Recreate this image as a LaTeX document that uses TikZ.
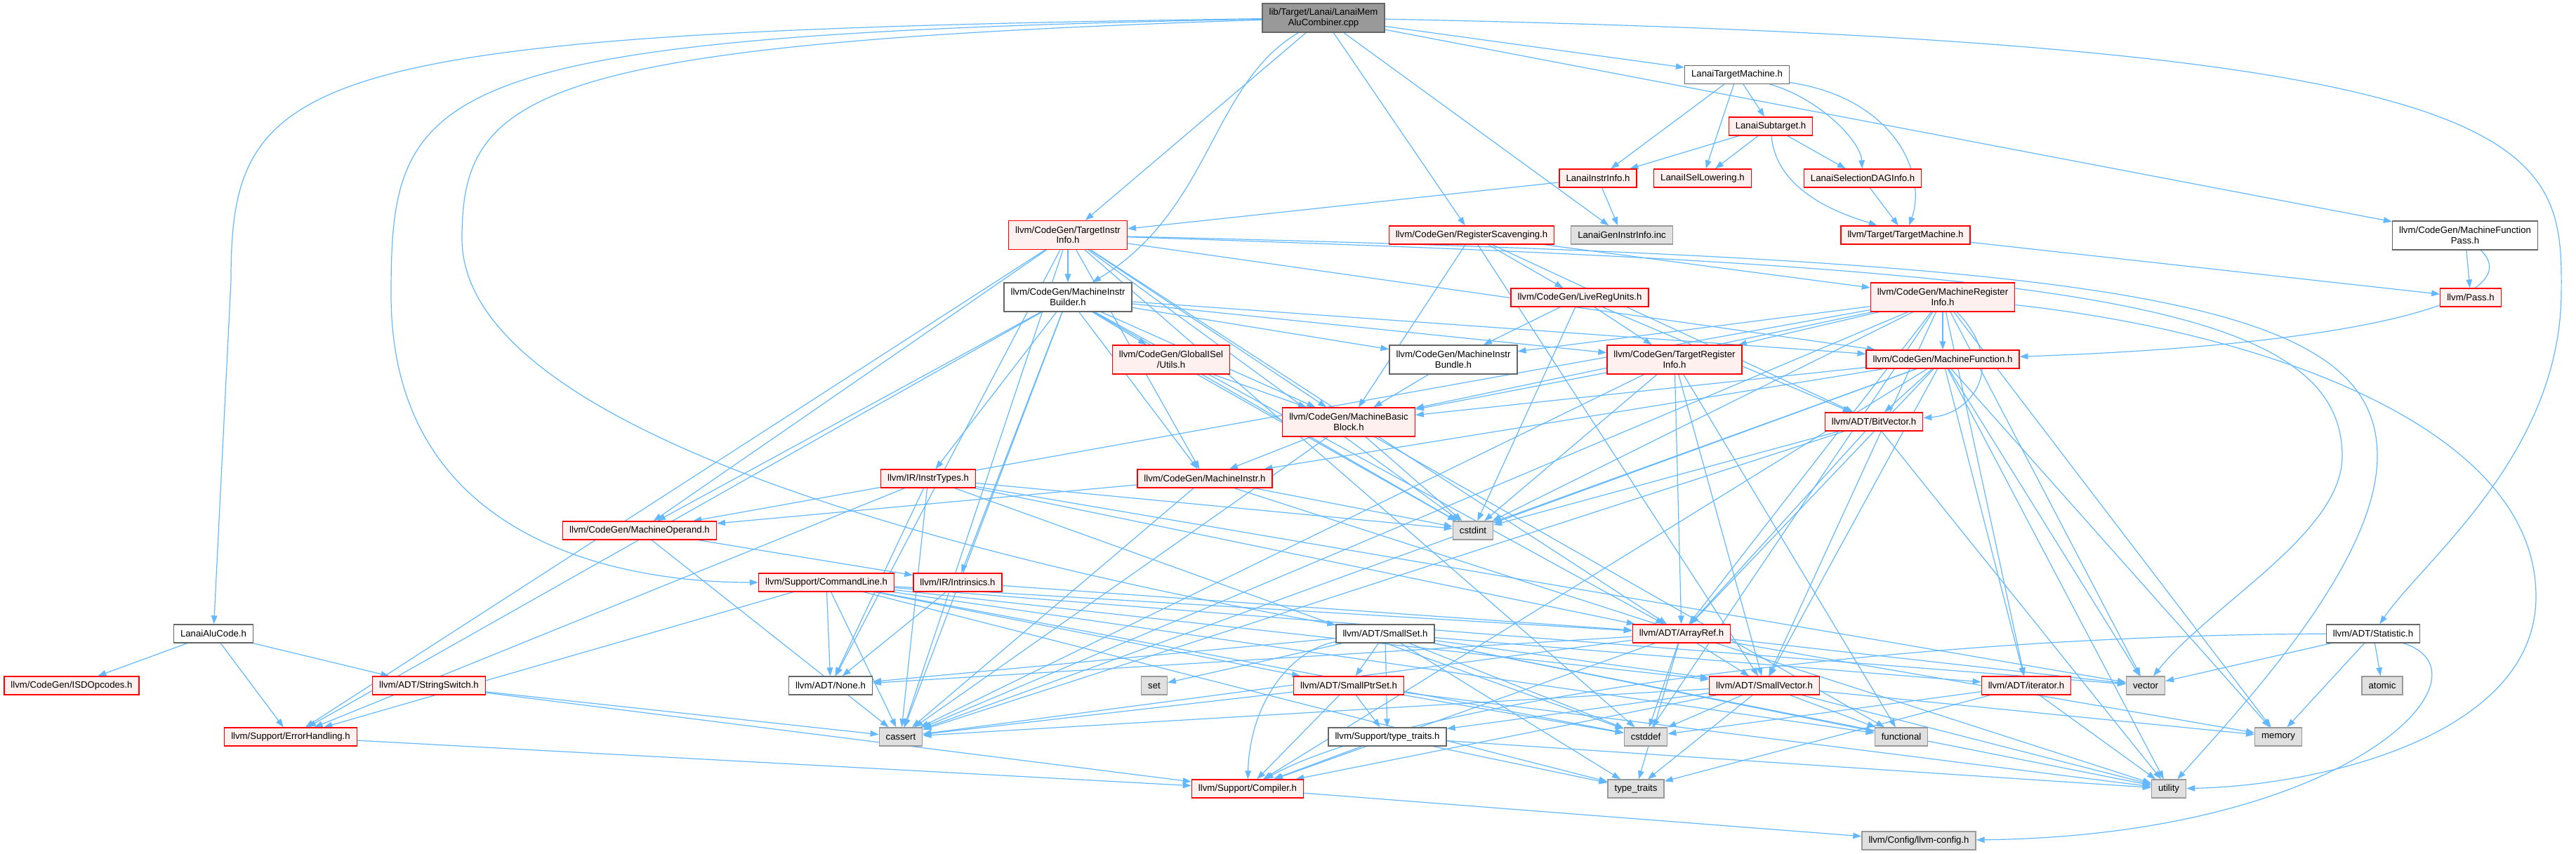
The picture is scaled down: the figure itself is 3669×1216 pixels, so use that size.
\documentclass[tikz,border=0pt]{standalone}
\usepackage{fontspec}
\setmainfont{Liberation Sans}
\usetikzlibrary{arrows.meta,backgrounds}
\definecolor{incEdge}{HTML}{63B8FF}
\definecolor{incRed}{HTML}{FF0000}
\definecolor{incPink}{HTML}{FFF0F0}
\definecolor{incFrame}{HTML}{666666}
\definecolor{incSysFill}{HTML}{E0E0E0}
\definecolor{incSysFrame}{HTML}{999999}
\definecolor{incRootFill}{HTML}{999999}
\tikzset{
  inc graph/.style={
    x=1pt, y=-1pt,
    every node/.style={font=\fontsize{13.2}{14.5}\selectfont,
      text=black, inner xsep=9.5pt, inner ysep=0pt,
      minimum height=26pt, line width=1.3pt, align=center}
  },
  inc file/.style={draw=incFrame, fill=white},
  inc trunc/.style={draw=incRed, fill=incPink},
  inc sys/.style={draw=incSysFrame, fill=incSysFill},
  inc root/.style={draw=incFrame, fill=incRootFill},
  inc two/.style={minimum height=41pt},
  inc edge/.style={draw=incEdge, line width=1.2pt,
    -{Triangle[length=12pt,width=8.5pt]}}
}

\begin{document}
\begin{tikzpicture}[inc graph]
  \useasboundingbox (0,0) rectangle (3669,1216);

  \node[inc root,inc two] (root) at (1885,25.5) {lib/Target/Lanai/LanaiMem\\AluCombiner.cpp};
  \node[inc file] (ltm) at (2474,106.5) {LanaiTargetMachine.h};
  \node[inc trunc] (sub) at (2522,180) {LanaiSubtarget.h};
  \node[inc trunc] (lii) at (2276,254) {LanaiInstrInfo.h};
  \node[inc trunc] (lisel) at (2425,254) {LanaiISelLowering.h};
  \node[inc trunc] (ldag) at (2653,254) {LanaiSelectionDAGInfo.h};
  \node[inc trunc,inc two] (tii) at (1521,335) {llvm/CodeGen/TargetInstr\\Info.h};
  \node[inc trunc] (rs) at (2096,335) {llvm/CodeGen/RegisterScavenging.h};
  \node[inc sys] (ginc) at (2310,335) {LanaiGenInstrInfo.inc};
  \node[inc trunc] (tm) at (2714,335) {llvm/Target/TargetMachine.h};
  \node[inc file,inc two] (mfp) at (3511,335.5) {llvm/CodeGen/MachineFunction\\Pass.h};
  \node[inc file,inc two] (mib) at (1521,423.5) {llvm/CodeGen/MachineInstr\\Builder.h};
  \node[inc trunc] (lru) at (2250,424) {llvm/CodeGen/LiveRegUnits.h};
  \node[inc trunc,inc two] (mri) at (2767,423.5) {llvm/CodeGen/MachineRegister\\Info.h};
  \node[inc trunc] (pass) at (3519,424) {llvm/Pass.h};
  \node[inc trunc,inc two] (gisel) at (1668,512.5) {llvm/CodeGen/GlobalISel\\/Utils.h};
  \node[inc file,inc two] (bundle) at (2070,512.5) {llvm/CodeGen/MachineInstr\\Bundle.h};
  \node[inc trunc,inc two] (tri) at (2385,512.5) {llvm/CodeGen/TargetRegister\\Info.h};
  \node[inc trunc] (mf) at (2767,512) {llvm/CodeGen/MachineFunction.h};
  \node[inc trunc,inc two] (mbb) at (1921,601.5) {llvm/CodeGen/MachineBasic\\Block.h};
  \node[inc trunc] (bv) at (2669,601) {llvm/ADT/BitVector.h};
  \node[inc trunc] (itypes) at (1322,682) {llvm/IR/InstrTypes.h};
  \node[inc trunc] (mi) at (1716,682) {llvm/CodeGen/MachineInstr.h};
  \node[inc trunc] (mo) at (911,756) {llvm/CodeGen/MachineOperand.h};
  \node[inc sys] (stdcstdint) at (2098,756) {cstdint};
  \node[inc trunc] (cl) at (1177,830) {llvm/Support/CommandLine.h};
  \node[inc trunc] (intr) at (1364,830) {llvm/IR/Intrinsics.h};
  \node[inc file] (alu) at (304,903) {LanaiAluCode.h};
  \node[inc file] (sset) at (1973,903) {llvm/ADT/SmallSet.h};
  \node[inc trunc] (aref) at (2395,903) {llvm/ADT/ArrayRef.h};
  \node[inc file] (stat) at (3380,903) {llvm/ADT/Statistic.h};
  \node[inc trunc] (isd) at (102,977) {llvm/CodeGen/ISDOpcodes.h};
  \node[inc trunc] (ssw) at (611,977) {llvm/ADT/StringSwitch.h};
  \node[inc file] (none) at (1183,977) {llvm/ADT/None.h};
  \node[inc sys] (stdset) at (1644,977) {set};
  \node[inc trunc] (sptr) at (1921,977) {llvm/ADT/SmallPtrSet.h};
  \node[inc trunc] (svec) at (2513,977) {llvm/ADT/SmallVector.h};
  \node[inc trunc] (iter) at (2886,977) {llvm/ADT/iterator.h};
  \node[inc sys] (stdvector) at (3056,977) {vector};
  \node[inc sys] (stdatomic) at (3393,977) {atomic};
  \node[inc trunc] (err) at (414,1050) {llvm/Support/ErrorHandling.h};
  \node[inc sys] (stdcassert) at (1283,1050) {cassert};
  \node[inc file] (tt) at (1976,1050) {llvm/Support/type\_traits.h};
  \node[inc sys] (stdcstddef) at (2344,1050) {cstddef};
  \node[inc sys] (stdfunctional) at (2708,1050) {functional};
  \node[inc sys] (stdmemory) at (3245,1050) {memory};
  \node[inc trunc] (compiler) at (1777,1124) {llvm/Support/Compiler.h};
  \node[inc sys] (stdtypetraits) at (2330,1124) {type\_traits};
  \node[inc sys] (stdutility) at (3089,1124) {utility};
  \node[inc sys] (llvmconfig) at (2733,1198) {llvm/Config/llvm-config.h};

  \begin{scope}[on background layer]
    \foreach \src/\dst in {root/tii, root/rs, root/ginc, root/ltm, root/mfp,
      ltm/lii, ltm/lisel, ltm/sub,
      sub/lii, sub/lisel, sub/ldag,
      lii/ginc, lii/tii, ldag/tm, tm/pass, mfp/pass,
      stat/stdvector, stat/stdmemory, stat/stdatomic,
      alu/isd, alu/ssw, alu/err,
      tii/mib, tii/aref, tii/none, tii/mbb, tii/mf, tii/mi, tii/mo, tii/err,
      tii/stdcassert, tii/stdcstddef, tii/stdcstdint,
      mib/aref, mib/gisel, mib/mbb, mib/mf, mib/mi, mib/bundle, mib/mo,
      mib/tri, mib/itypes, mib/intr, mib/err, mib/stdcassert, mib/stdcstdint,
      rs/bv, rs/svec, rs/lru, rs/mbb, rs/mri,
      lru/bv, lru/bundle, lru/tri, lru/stdcstdint,
      mri/aref, mri/svec, mri/mbb, mri/mf, mri/bundle, mri/mo,
      mri/tri, mri/iter, mri/stdcassert, mri/stdcstddef, mri/stdcstdint,
      mri/stdmemory, mri/stdvector,
      gisel/mbb, gisel/stdcstdint, bundle/mbb,
      tri/mbb, tri/aref, tri/svec, tri/stdcassert, tri/stdcstdint,
      tri/stdfunctional,
      mf/aref, mf/bv, mf/svec, mf/iter, mf/mbb, mf/mi, mf/compiler,
      mf/stdcassert, mf/stdcstdint, mf/stdmemory, mf/stdutility, mf/stdvector,
      mbb/mi, mbb/stdcassert, mbb/stdcstdint, mbb/stdfunctional,
      bv/aref, bv/stdcassert, bv/stdcstdint, bv/stdutility,
      itypes/aref, itypes/none, itypes/err, itypes/stdcassert,
      itypes/stdcstddef, itypes/stdcstdint, itypes/stdvector,
      mi/mo, mi/stdcassert, mi/stdcstdint, mi/stdutility,
      mo/intr, mo/stdcassert,
      cl/aref, cl/none, cl/sptr, cl/svec, cl/err, cl/stdcassert,
      cl/stdcstddef, cl/stdfunctional, cl/stdtypetraits, cl/stdvector,
      intr/aref, intr/none,
      sset/none, sset/sptr, sset/svec, sset/iter, sset/tt,
      sset/stdcstddef, sset/stdfunctional, sset/stdset, sset/stdtypetraits,
      sset/stdutility,
      aref/none, aref/svec, aref/compiler, aref/stdcassert, aref/stdcstddef,
      aref/stdmemory, aref/stdtypetraits, aref/stdvector,
      ssw/compiler, ssw/stdcassert,
      sptr/compiler, sptr/tt, sptr/stdcassert, sptr/stdcstddef, sptr/stdutility,
      svec/compiler, svec/tt, svec/stdcassert, svec/stdcstddef,
      svec/stdfunctional, svec/stdmemory, svec/stdtypetraits, svec/stdutility,
      iter/stdcstddef, iter/stdtypetraits, iter/stdutility,
      err/compiler, tt/compiler, tt/stdtypetraits, tt/stdutility,
      compiler/llvmconfig} {
      \draw[inc edge] (\src) -- (\dst);
    }
    \draw[inc edge] (root) .. controls (420,45) and (329,100) .. (329,400) -- (alu);
    \draw[inc edge] (root) .. controls (600,50) and (557,120) .. (557,420)
      .. controls (557,780) and (900,830) .. (cl);
    \draw[inc edge] (root) .. controls (760,62) and (658,130) .. (658,340)
      .. controls (658,620) and (1400,800) .. (sset);
    \draw[inc edge] (root) .. controls (1725,120) and (1725,300) .. (mib);
    \draw[inc edge] (root) .. controls (3640,60) and (3650,200) .. (3648,420)
      .. controls (3645,650) and (3450,800) .. (stat);
    \draw[inc edge] (ltm) .. controls (2700,140) and (2745,250) .. (tm);
    \draw[inc edge] (ltm) .. controls (2590,140) and (2650,200) .. (ldag);
    \draw[inc edge] (sub) .. controls (2530,280) and (2640,310) .. (tm);
    \draw[inc edge] (mfp) .. controls (3600,420) and (3400,490) .. (mf);
    \draw[inc edge] (mri) .. controls (2860,520) and (2810,590) .. (bv);
    \draw[inc edge] (sset) .. controls (1840,925) and (1780,1000) .. (compiler);
    \draw[inc edge] (stat) .. controls (3560,960) and (3350,1190) .. (llvmconfig);
    \draw[inc edge] (stat) .. controls (2700,905) and (2000,1000) .. (compiler);
    \draw[inc edge] (tii) .. controls (2900,380) and (3336,420) .. (3336,650)
      .. controls (3336,760) and (3150,860) .. (stdvector);
    \draw[inc edge] (tii) .. controls (3000,370) and (3386,420) .. (3386,650)
      .. controls (3386,800) and (3200,1000) .. (stdutility);
    \draw[inc edge] (mri) .. controls (3200,470) and (3612,600) .. (3612,850)
      .. controls (3612,1050) and (3300,1120) .. (stdutility);
  \end{scope}
\end{tikzpicture}
\end{document}
